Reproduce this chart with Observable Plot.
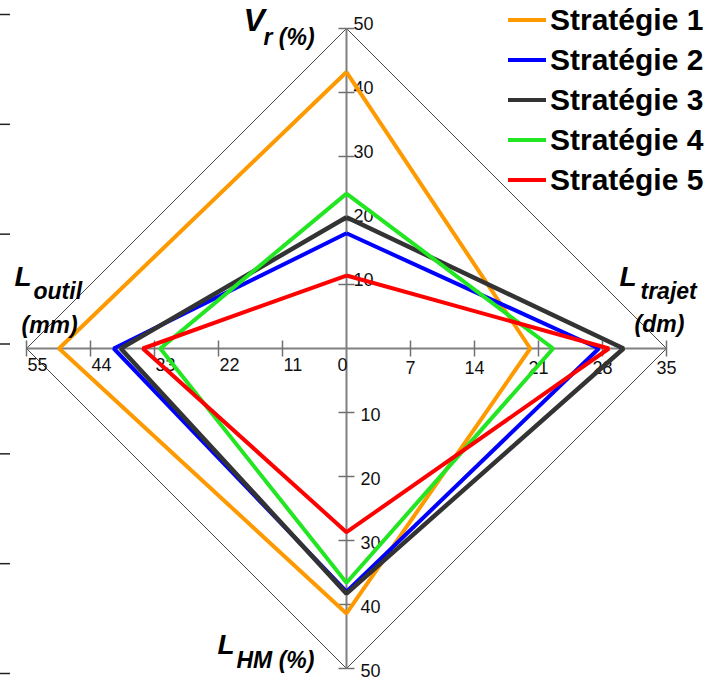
<!DOCTYPE html>
<html>
<head>
<meta charset="utf-8">
<script src="https://cdn.jsdelivr.net/npm/d3@7"></script>
<script src="https://cdn.jsdelivr.net/npm/@observablehq/plot@0.6"></script>
<style>
  html, body { margin: 0; padding: 0; background: #fff; }
  body { font-family: Arial, "Liberation Sans", sans-serif; }
  #chart { position: relative; width: 716px; height: 679px; overflow: hidden; }
  #chart svg { position: absolute; left: 0; top: 0; }
  .legend { position: absolute; left: 508px; top: 0; }
  .legend .row { display: flex; align-items: center; height: 40px; }
  .legend .swatch { width: 38px; height: 4px; margin-right: 4px; }
  .legend .name { font-size: 30px; font-weight: bold; color: #000; line-height: 40px; }
</style>
</head>
<body>
<div id="chart"></div>
<script>
// Strategy names and line colours
const strategies = ["Stratégie 1", "Stratégie 2", "Stratégie 3", "Stratégie 4", "Stratégie 5"];
const colors = ["#ff9900", "#0000ff", "#333333", "#22e622", "#ff0000"];
const widths = [4, 4, 4.5, 4, 4];

// Values per axis, one entry per strategy
const vr = [43.2, 18, 20.5, 24.2, 11.4];        // V_r (%)
const lTrajet = [20.1, 27.6, 30.3, 22.6, 28.7];  // L_trajet (dm)
const lHM = [41.4, 38, 38.3, 36.6, 28.7];        // L_HM (%)
const lOutil = [49.4, 40, 38.8, 32, 35];         // L_outil (mm)

// Axis maxima and tick values
const maxVr = 50, maxTrajet = 35, maxHM = 50, maxOutil = 55;
const vrTicks = [10, 20, 30, 40, 50];
const hmTicks = [10, 20, 30, 40, 50];
const trajetTicks = [7, 14, 21, 28, 35];
const outilTicks = [11, 22, 33, 44, 55];
const centerLabel = [0];

// Ticks of the clipped neighbouring axis at the left edge
const edgeTicks = [0, 1, 2, 3, 4, 5, 6];

// Radar polygon points: up = V_r, right = L_trajet, down = L_HM, left = L_outil
const radar = [];
strategies.forEach((s, i) => {
  const pts = [
    {x: 0, y: vr[i] / maxVr},
    {x: lTrajet[i] / maxTrajet, y: 0},
    {x: 0, y: -lHM[i] / maxHM},
    {x: -lOutil[i] / maxOutil, y: 0}
  ];
  pts.push(pts[0]);
  pts.forEach(p => radar.push({...p, s}));
});

const frame = [{x: 0, y: 1}, {x: 1, y: 0}, {x: 0, y: -1}, {x: -1, y: 0}, {x: 0, y: 1}];
const ends = {top: [{x: 0, y: 1}], right: [{x: 1, y: 0}], bottom: [{x: 0, y: -1}], left: [{x: -1, y: 0}]};

const tickHalf = 0.025;
const titleFont = {fontFamily: 'Arial, "Liberation Sans", sans-serif', fontWeight: "bold", fontStyle: "italic", fill: "#000", textAnchor: "start", lineAnchor: "bottom"};
const tickFont = {fontFamily: 'Arial, "Liberation Sans", sans-serif', fontSize: 18, fill: "#111", lineAnchor: "bottom"};

const marks = [
  // outer diamond
  Plot.line(frame, {x: "x", y: "y", stroke: "#4a4a4a", strokeWidth: 1}),
  // axes
  Plot.ruleX([0], {y1: -1, y2: 1, stroke: "#808080", strokeWidth: 2}),
  Plot.ruleY([0], {x1: -1, x2: 1, stroke: "#808080", strokeWidth: 2}),
  // vertical axis ticks
  Plot.link(vrTicks, {x1: () => -tickHalf, x2: () => tickHalf, y1: d => d / maxVr, y2: d => d / maxVr, stroke: "#707070", strokeWidth: 1.5}),
  Plot.link(hmTicks, {x1: () => -tickHalf, x2: () => tickHalf, y1: d => -d / maxHM, y2: d => -d / maxHM, stroke: "#707070", strokeWidth: 1.5}),
  // horizontal axis ticks
  Plot.link(trajetTicks, {y1: () => -tickHalf, y2: () => tickHalf, x1: d => d / maxTrajet, x2: d => d / maxTrajet, stroke: "#707070", strokeWidth: 1.5}),
  Plot.link(outilTicks, {y1: () => -tickHalf, y2: () => tickHalf, x1: d => -d / maxOutil, x2: d => -d / maxOutil, stroke: "#707070", strokeWidth: 1.5}),
  // tick labels
  Plot.text(vrTicks, {x: () => 0, y: d => d / maxVr, text: d => String(d), textAnchor: "start", dx: 7, dy: 1, ...tickFont}),
  Plot.text(hmTicks, {x: () => 0, y: d => -d / maxHM, text: d => String(d), textAnchor: "start", dx: 14, dy: 8, ...tickFont}),
  Plot.text(trajetTicks, {x: d => d / maxTrajet, y: () => 0, text: d => String(d), textAnchor: "middle", dy: 25, ...tickFont}),
  Plot.text(outilTicks, {x: d => -d / maxOutil, y: () => 0, text: d => String(d), textAnchor: "start", dx: 1, dy: 22, ...tickFont}),
  Plot.text(centerLabel, {x: () => 0, y: () => 0, text: d => String(d), textAnchor: "end", dx: 1, dy: 22, ...tickFont}),
  // strategy polygons
  Plot.line(radar, {x: "x", y: "y", z: "s", stroke: "s", strokeWidth: d => widths[strategies.indexOf(d.s)], strokeLinejoin: "miter", strokeLinecap: "butt"}),
  // axis titles
  Plot.text(ends.top, {x: "x", y: "y", text: () => "V", fontSize: 32, dx: -103, dy: 2, ...titleFont}),
  Plot.text(ends.top, {x: "x", y: "y", text: () => "r (%)", fontSize: 23, dx: -83, dy: 16, ...titleFont}),
  Plot.text(ends.left, {x: "x", y: "y", text: () => "L", fontSize: 28, dx: -12, dy: -63, ...titleFont}),
  Plot.text(ends.left, {x: "x", y: "y", text: () => "outil", fontSize: 23, dx: 7, dy: -50, ...titleFont}),
  Plot.text(ends.left, {x: "x", y: "y", text: () => "(mm)", fontSize: 23, dx: -5, dy: -16, ...titleFont}),
  Plot.text(ends.right, {x: "x", y: "y", text: () => "L", fontSize: 28, dx: -47, dy: -63, ...titleFont}),
  Plot.text(ends.right, {x: "x", y: "y", text: () => "trajet", fontSize: 23, dx: -26, dy: -50, ...titleFont}),
  Plot.text(ends.right, {x: "x", y: "y", text: () => "(dm)", fontSize: 23, dx: -32, dy: -17, ...titleFont}),
  Plot.text(ends.bottom, {x: "x", y: "y", text: () => "L", fontSize: 28, dx: -129, dy: -15, ...titleFont}),
  Plot.text(ends.bottom, {x: "x", y: "y", text: () => "HM (%)", fontSize: 23, dx: -110, dy: -1, ...titleFont})
];

const chart = Plot.plot({
  width: 716,
  height: 679,
  margin: 0,
  x: {domain: [-1, 1], range: [26, 666], axis: null},
  y: {domain: [-1, 1], range: [668, 28], axis: null},
  color: {domain: strategies, range: colors},
  style: {background: "transparent", overflow: "visible"},
  marks
});

// Tick marks of the neighbouring axis cut off at the left edge
const edge = Plot.plot({
  width: 12,
  height: 679,
  marginLeft: 10,
  marginRight: 2,
  marginTop: 14,
  marginBottom: 6,
  y: {domain: [0, 6], ticks: edgeTicks, label: null},
  marks: [
    Plot.axisY(edgeTicks, {anchor: "left", tickSize: 10, tickFormat: () => "", stroke: "#222", strokeWidth: 1.5, label: null})
  ],
  style: {background: "transparent", overflow: "visible"}
});

const root = document.getElementById("chart");
root.appendChild(edge);
root.appendChild(chart);

// Legend: line sample + name for each strategy
const legend = document.createElement("div");
legend.className = "legend";
strategies.forEach((s, i) => {
  const row = document.createElement("div");
  row.className = "row";
  const sw = document.createElement("span");
  sw.className = "swatch";
  sw.style.background = colors[i];
  const nm = document.createElement("span");
  nm.className = "name";
  nm.textContent = s;
  row.appendChild(sw);
  row.appendChild(nm);
  legend.appendChild(row);
});
root.appendChild(legend);
</script>
</body>
</html>
